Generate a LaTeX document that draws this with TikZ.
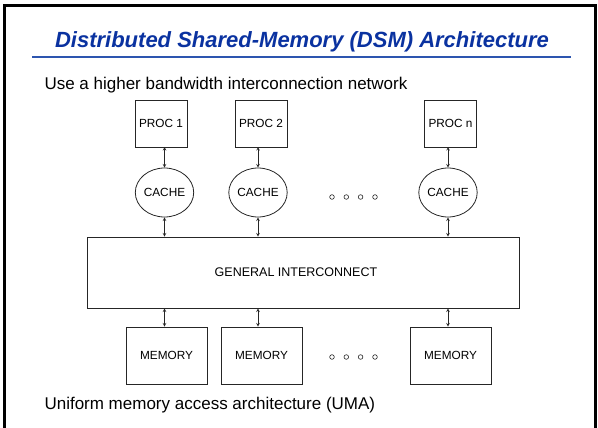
\documentclass[tikz,border=0pt]{standalone}
\usepackage{fontspec}
\setmainfont{Liberation Sans}
\usepackage{tikz}
\usetikzlibrary{shapes.geometric,arrows}

\definecolor{titleblue}{RGB}{10,50,160}
\definecolor{ruleblue}{RGB}{45,85,175}

\tikzset{
	unit/.style={draw=black!85,line width=0.8pt,inner sep=0pt,font=\fontsize{11.8}{14}\selectfont},
	procbox/.style={unit,rectangle,minimum width=52pt,minimum height=47pt},
	cachebox/.style={unit,ellipse,minimum width=57pt,minimum height=49pt},
	membox/.style={unit,rectangle,minimum width=81pt,minimum height=57pt},
	link/.style={<->,line width=0.6pt,black!85},
	dot/.style={draw=black!85,line width=0.6pt}
}

\begin{document}
\begin{tikzpicture}[x=1pt,y=-1pt,>=stealth]
	\useasboundingbox (0,0) rectangle (598,428);
	
	% slide frame, open at the foot
	\draw[line width=3pt] (4.5,440)--(4.5,6)--(595.5,6)--(595.5,440);
	
	\node[anchor=base,text=titleblue,font=\fontsize{22}{26}\selectfont\bfseries\itshape] (title) at (302,48) {Distributed Shared-Memory (DSM) Architecture};
	\draw[ruleblue,line width=2pt] (32,57.5)--(571,57.5);
	
	\node[anchor=base west,font=\fontsize{17}{20}\selectfont] (top) at (41,90) {Use a higher bandwidth interconnection network};
	
	% processors and their caches
	\node[procbox] (proc1) at (161,123.5) {PROC 1};
	\node[procbox] (proc2) at (261,123.5) {PROC 2};
	\node[procbox] (procn) at (450.5,123.5) {PROC n};
	
	\node[cachebox] (cache1) at (164.5,192.5) {CACHE};
	\node[cachebox] (cache2) at (258,192.5) {CACHE};
	\node[cachebox] (cachen) at (448,192.5) {CACHE};
	
	\node[unit,rectangle,minimum width=432pt,minimum height=71pt,
		label={[xshift=-7pt,font=\fontsize{12.5}{15}\selectfont]center:GENERAL INTERCONNECT}] (net) at (303,272.5) {};
	
	\node[membox] (mem1) at (166.5,355.5) {MEMORY};
	\node[membox] (mem2) at (261.5,355.5) {MEMORY};
	\node[membox] (memn) at (450.5,355.5) {MEMORY};
	
	\foreach \c/\m in {cache1/mem1,cache2/mem2,cachen/memn}{
		\draw[link] (\c |- 0,147) -- (\c.north);
		\draw[link] (\c.south) -- (\c |- net.north);
		\draw[link] (\c |- net.south) -- (\c |- \m.north);
	}
	
	% dots for the other units
	\foreach \x in {332,346.3,360.6,375}{
		\draw[dot] (\x,197) circle (2.3pt);
		\draw[dot] (\x,357) circle (2.3pt);
	}
	
	\node[anchor=base west,font=\fontsize{17}{20}\selectfont] (foot) at (41,409) {Uniform memory access architecture (UMA)};
\end{tikzpicture}
\end{document}
